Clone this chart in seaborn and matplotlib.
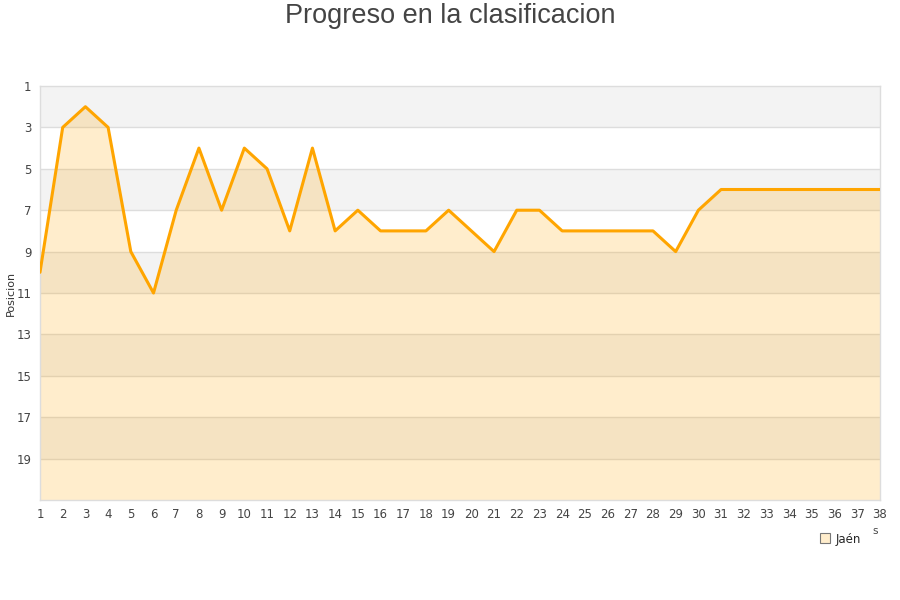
import matplotlib
matplotlib.use("Agg")
import matplotlib.pyplot as plt
import numpy as np
import pandas as pd
import seaborn as sns

# jornada vs posicion en la tabla
jornadas = list(range(1, 39))
posiciones = [10, 3, 2, 3, 9, 11, 7, 4, 7, 4,
              5, 8, 4, 8, 7, 8, 8, 8, 7, 8,
              9, 7, 7, 8, 8, 8, 8, 8, 9, 7,
              6, 6, 6, 6, 6, 6, 6, 6]
equipo = "Jaén"
y_ticks = [1, 3, 5, 7, 9, 11, 13, 15, 17, 19]

LINE = "#ffa500"

df = pd.DataFrame({"jornada": jornadas, "posicion": posiciones})

sns.set_style("white")
plt.rcParams["font.family"] = ["DejaVu Sans"]

fig = plt.figure(figsize=(9, 6), dpi=100)
ax = fig.add_axes([40 / 900, 1 - 500 / 600, 840 / 900, 414 / 600])

# alternating bands
for lo in range(1, 21, 4):
    ax.axhspan(lo, lo + 2, color="#f3f3f3", zorder=0, lw=0)
for y in range(3, 21, 2):
    ax.axhline(y, color="#dddddd", lw=1, zorder=1)

ax.fill_between(df["jornada"], df["posicion"], 21, color=LINE, alpha=0.2,
                lw=0, zorder=2)
sns.lineplot(data=df, x="jornada", y="posicion", color=LINE, lw=2.2,
             ax=ax, zorder=3)

ax.set_xlim(1, 38)
ax.set_ylim(21, 1)
ax.set_xticks(jornadas)
ax.set_yticks(y_ticks)
ax.tick_params(axis="both", labelsize=8.5, colors="#444444", length=0, pad=6)
ax.set_xlabel("")
ax.set_ylabel("")
for s in ax.spines.values():
    s.set_color("#dddddd")
    s.set_linewidth(1)

fig.text(11 / 900, 1 - 293 / 600, "Posicion", rotation=90, ha="center",
         va="center", fontsize=8, color="#333333")
fig.text(0.5, 1 - 16 / 600, "Progreso en la clasificacion", ha="center",
         va="center", fontsize=19.5, color="#444444",
         family=["Liberation Sans", "DejaVu Sans"])
fig.text(875 / 900, 1 - 531 / 600, "s", ha="center", va="center",
         fontsize=7.5, color="#444444")

handle = plt.Line2D([], [], marker="s", ls="", markersize=7,
                    markerfacecolor="#ffedcc", markeredgecolor="#777777",
                    markeredgewidth=0.8)
fig.legend([handle], [equipo], loc="center", bbox_to_anchor=(840 / 900, 1 - 539 / 600),
           frameon=False, fontsize=8.5, handletextpad=0.4, handlelength=1)

fig.savefig("out.png", dpi=100)
